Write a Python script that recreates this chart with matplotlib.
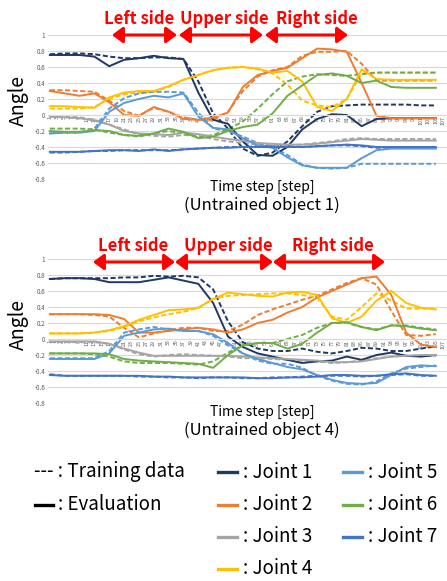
import matplotlib
matplotlib.use("Agg")
import matplotlib.pyplot as plt
from matplotlib.lines import Line2D
from matplotlib.patches import FancyArrowPatch

plt.rcParams['font.family'] = ['Noto Sans CJK JP', 'DejaVu Sans']

W, H = 447, 581

# ---------------- data ----------------
steps = [1, 5, 9, 13, 17, 21, 25, 29, 33, 37, 41, 45, 49, 53, 57, 61, 65, 69,
         73, 77, 81, 85, 89, 93, 97, 101, 105]
xtick_labels = [str(v) for v in range(1, 108, 2)]
yticks = [-0.8, -0.6, -0.4, -0.2, 0, 0.2, 0.4, 0.6, 0.8, 1]
ytick_labels = ["-0.8", "-0.6", "-0.4", "-0.2", "0", "0.2", "0.4", "0.6", "0.8", "1"]

joint_names = ["Joint 1", "Joint 2", "Joint 3", "Joint 4", "Joint 5", "Joint 6", "Joint 7"]
joint_colors = ["#1F3864", "#ED7D31", "#A5A5A5", "#FFC000", "#5B9BD5", "#70AD47", "#4472C4"]

# Untrained object 1 : evaluation (solid) / training (dashed)
o1_j1_eval = [0.75, 0.75, 0.75, 0.73, 0.61, 0.69, 0.71, 0.74, 0.71, 0.70, 0.28, -0.06, -0.11, -0.33, -0.50, -0.51, -0.40, -0.18, -0.05, 0.01, 0.00, -0.14, -0.05, -0.04, -0.04, -0.04, -0.04]
o1_j1_train = [0.76, 0.77, 0.77, 0.76, 0.73, 0.71, 0.71, 0.72, 0.72, 0.70, 0.42, 0.02, -0.17, -0.42, -0.51, -0.47, -0.33, -0.14, 0.04, 0.11, 0.12, 0.13, 0.13, 0.13, 0.13, 0.12, 0.12]
o1_j2_eval = [0.30, 0.27, 0.24, 0.27, 0.16, 0.00, -0.01, 0.10, 0.04, -0.05, -0.06, -0.03, 0.03, 0.35, 0.50, 0.55, 0.59, 0.71, 0.83, 0.82, 0.79, 0.40, -0.01, -0.04, -0.04, -0.04, -0.04]
o1_j2_train = [0.31, 0.31, 0.30, 0.29, 0.18, 0.05, -0.01, 0.09, 0.04, -0.03, -0.06, -0.06, 0.04, 0.30, 0.48, 0.56, 0.60, 0.74, 0.79, 0.79, 0.80, 0.64, 0.43, 0.43, 0.43, 0.43, 0.43]
o1_j3_eval = [-0.02, -0.03, -0.04, -0.07, -0.12, -0.20, -0.23, -0.24, -0.25, -0.22, -0.24, -0.27, -0.30, -0.32, -0.35, -0.36, -0.37, -0.37, -0.36, -0.34, -0.32, -0.30, -0.31, -0.32, -0.32, -0.32, -0.32]
o1_j3_train = [-0.02, -0.02, -0.03, -0.06, -0.12, -0.18, -0.24, -0.26, -0.27, -0.25, -0.26, -0.30, -0.33, -0.35, -0.37, -0.38, -0.38, -0.37, -0.35, -0.33, -0.30, -0.29, -0.30, -0.30, -0.30, -0.30, -0.30]
o1_j4_eval = [0.11, 0.11, 0.10, 0.09, 0.22, 0.28, 0.30, 0.30, 0.36, 0.44, 0.50, 0.56, 0.59, 0.60, 0.58, 0.53, 0.55, 0.42, 0.10, 0.05, 0.20, 0.57, 0.45, 0.44, 0.44, 0.44, 0.44]
o1_j4_train = [0.08, 0.08, 0.08, 0.10, 0.20, 0.26, 0.28, 0.29, 0.35, 0.44, 0.50, 0.56, 0.59, 0.60, 0.57, 0.52, 0.38, 0.18, 0.12, 0.10, 0.20, 0.52, 0.53, 0.53, 0.53, 0.53, 0.53]
o1_j5_eval = [-0.23, -0.22, -0.22, -0.20, 0.04, 0.15, 0.20, 0.24, 0.22, 0.27, -0.02, -0.16, -0.18, -0.29, -0.38, -0.41, -0.53, -0.63, -0.66, -0.66, -0.66, -0.54, -0.44, -0.42, -0.42, -0.42, -0.42]
o1_j5_train = [-0.23, -0.22, -0.22, -0.17, 0.08, 0.21, 0.27, 0.29, 0.29, 0.28, 0.03, -0.17, -0.20, -0.27, -0.35, -0.40, -0.50, -0.62, -0.66, -0.67, -0.66, -0.61, -0.61, -0.61, -0.61, -0.61, -0.61]
o1_j6_eval = [-0.20, -0.21, -0.21, -0.19, -0.20, -0.25, -0.26, -0.23, -0.17, -0.21, -0.29, -0.27, -0.20, -0.15, -0.12, 0.02, 0.24, 0.37, 0.50, 0.52, 0.49, 0.40, 0.43, 0.35, 0.34, 0.34, 0.34]
o1_j6_train = [-0.17, -0.17, -0.17, -0.18, -0.22, -0.25, -0.27, -0.23, -0.20, -0.23, -0.28, -0.25, -0.18, -0.08, 0.08, 0.26, 0.42, 0.48, 0.51, 0.50, 0.49, 0.51, 0.53, 0.53, 0.53, 0.53, 0.53]
o1_j7_eval = [-0.46, -0.46, -0.46, -0.45, -0.44, -0.44, -0.45, -0.43, -0.45, -0.43, -0.42, -0.41, -0.41, -0.40, -0.40, -0.40, -0.40, -0.40, -0.39, -0.38, -0.37, -0.38, -0.40, -0.40, -0.40, -0.40, -0.40]
o1_j7_train = [-0.47, -0.47, -0.46, -0.45, -0.45, -0.44, -0.44, -0.44, -0.44, -0.43, -0.42, -0.41, -0.40, -0.40, -0.39, -0.39, -0.40, -0.40, -0.39, -0.38, -0.38, -0.39, -0.41, -0.41, -0.41, -0.41, -0.41]

# Untrained object 4
o4_j1_eval = [0.75, 0.76, 0.76, 0.75, 0.71, 0.71, 0.71, 0.74, 0.77, 0.73, 0.69, 0.45, 0.03, -0.10, -0.18, -0.22, -0.26, -0.30, -0.28, -0.27, -0.22, -0.26, -0.20, -0.17, -0.21, -0.22, -0.20]
o4_j1_train = [0.75, 0.76, 0.76, 0.76, 0.76, 0.77, 0.77, 0.79, 0.78, 0.79, 0.77, 0.62, 0.22, -0.04, -0.12, -0.15, -0.15, -0.12, -0.16, -0.18, -0.15, -0.11, -0.12, -0.15, -0.15, -0.12, -0.09]
o4_j2_eval = [0.31, 0.31, 0.31, 0.31, 0.30, 0.25, 0.08, 0.08, 0.10, 0.12, 0.14, 0.12, 0.08, 0.12, 0.20, 0.24, 0.33, 0.40, 0.52, 0.60, 0.68, 0.76, 0.78, 0.55, 0.08, -0.07, -0.10]
o4_j2_train = [0.31, 0.31, 0.31, 0.30, 0.28, 0.14, 0.02, 0.07, 0.11, 0.14, 0.14, 0.10, 0.10, 0.18, 0.30, 0.37, 0.43, 0.49, 0.54, 0.62, 0.70, 0.76, 0.68, 0.35, 0.05, 0.04, 0.06]
o4_j3_eval = [-0.03, -0.03, -0.03, -0.03, -0.06, -0.12, -0.17, -0.21, -0.21, -0.21, -0.21, -0.21, -0.21, -0.22, -0.23, -0.24, -0.25, -0.26, -0.27, -0.29, -0.29, -0.28, -0.25, -0.22, -0.21, -0.20, -0.20]
o4_j3_train = [-0.04, -0.04, -0.04, -0.04, -0.06, -0.13, -0.19, -0.22, -0.20, -0.19, -0.20, -0.21, -0.22, -0.24, -0.24, -0.25, -0.26, -0.27, -0.28, -0.30, -0.29, -0.27, -0.24, -0.22, -0.21, -0.21, -0.21]
o4_j4_eval = [0.07, 0.07, 0.07, 0.08, 0.11, 0.16, 0.24, 0.30, 0.36, 0.37, 0.39, 0.50, 0.58, 0.56, 0.54, 0.53, 0.58, 0.59, 0.55, 0.26, 0.20, 0.28, 0.48, 0.60, 0.45, 0.39, 0.37]
o4_j4_train = [0.07, 0.07, 0.07, 0.08, 0.10, 0.15, 0.22, 0.27, 0.31, 0.34, 0.39, 0.50, 0.54, 0.55, 0.56, 0.57, 0.57, 0.55, 0.52, 0.28, 0.24, 0.40, 0.57, 0.48, 0.38, 0.38, 0.38]
o4_j5_eval = [-0.25, -0.25, -0.25, -0.25, -0.18, 0.04, 0.08, 0.12, 0.13, 0.10, 0.10, 0.06, -0.05, -0.18, -0.25, -0.30, -0.35, -0.38, -0.45, -0.51, -0.55, -0.56, -0.55, -0.45, -0.35, -0.33, -0.34]
o4_j5_train = [-0.24, -0.24, -0.24, -0.24, -0.15, 0.08, 0.12, 0.15, 0.12, 0.10, 0.10, 0.04, -0.08, -0.18, -0.27, -0.31, -0.31, -0.36, -0.46, -0.52, -0.56, -0.57, -0.53, -0.43, -0.37, -0.35, -0.33]
o4_j6_eval = [-0.18, -0.18, -0.18, -0.18, -0.19, -0.25, -0.27, -0.28, -0.29, -0.30, -0.31, -0.36, -0.20, -0.08, -0.05, -0.05, -0.12, -0.06, 0.08, 0.20, 0.21, 0.15, 0.11, 0.17, 0.16, 0.13, 0.11]
o4_j6_train = [-0.18, -0.18, -0.18, -0.19, -0.22, -0.28, -0.30, -0.30, -0.30, -0.31, -0.32, -0.28, -0.17, -0.08, -0.05, -0.05, 0.00, 0.05, 0.14, 0.20, 0.20, 0.15, 0.12, 0.17, 0.17, 0.14, 0.12]
o4_j7_eval = [-0.45, -0.46, -0.46, -0.46, -0.46, -0.46, -0.46, -0.47, -0.47, -0.48, -0.48, -0.48, -0.48, -0.48, -0.49, -0.49, -0.48, -0.48, -0.47, -0.45, -0.45, -0.46, -0.46, -0.44, -0.43, -0.45, -0.46]
o4_j7_train = [-0.44, -0.46, -0.46, -0.46, -0.46, -0.46, -0.47, -0.47, -0.48, -0.48, -0.49, -0.48, -0.48, -0.49, -0.49, -0.48, -0.48, -0.47, -0.46, -0.46, -0.46, -0.47, -0.46, -0.45, -0.44, -0.46, -0.46]

obj1_eval = [o1_j1_eval, o1_j2_eval, o1_j3_eval, o1_j4_eval, o1_j5_eval, o1_j6_eval, o1_j7_eval]
obj1_train = [o1_j1_train, o1_j2_train, o1_j3_train, o1_j4_train, o1_j5_train, o1_j6_train, o1_j7_train]
obj4_eval = [o4_j1_eval, o4_j2_eval, o4_j3_eval, o4_j4_eval, o4_j5_eval, o4_j6_eval, o4_j7_eval]
obj4_train = [o4_j1_train, o4_j2_train, o4_j3_train, o4_j4_train, o4_j5_train, o4_j6_train, o4_j7_train]

phase_labels = ["Left side", "Upper side", "Right side"]

# ---------------- figure ----------------
fig = plt.figure(figsize=(W / 100, H / 100), dpi=100)


def fx(px):
    return px / W


def fy(py):
    return 1 - py / H


def make_axes(top_px, bottom_px, evals, trains, subtitle, label_y):
    ax = fig.add_axes([fx(48), fy(bottom_px), fx(447 - 48), (bottom_px - top_px) / H])
    for s in ["top", "right", "left"]:
        ax.spines[s].set_visible(False)
    ax.spines["bottom"].set_position(("data", 0))
    ax.spines["bottom"].set_color("#D9D9D9")
    ax.spines["bottom"].set_linewidth(0.8)
    ax.set_xlim(0.5, 108)
    ax.set_ylim(-0.8, 1.0)
    ax.set_yticks(yticks)
    ax.set_yticklabels(ytick_labels, fontsize=4.5, color="#595959")
    ax.set_xticks(list(range(1, 108, 2)))
    ax.set_xticklabels(xtick_labels, fontsize=3.8, color="#595959", rotation=90)
    ax.tick_params(axis="both", length=0)
    ax.tick_params(axis="y", pad=2)
    ax.tick_params(axis="x", pad=0.5)
    ax.grid(axis="y", color="#D9D9D9", linewidth=0.8)
    ax.set_axisbelow(True)
    for k in range(7):
        ax.plot(steps, trains[k], color=joint_colors[k], lw=1.4,
                ls=(0, (2.6, 1.3)))
    for k in range(7):
        ax.plot(steps, evals[k], color=joint_colors[k], lw=1.4)
    fig.text(fx(18), fy((top_px + bottom_px) / 2 - 7), "Angle", rotation=90,
             ha="center", va="center", fontsize=14)
    fig.text(fx(262), fy(label_y), "Time step [step]", ha="center", va="center",
             fontsize=10)
    fig.text(fx(262), fy(label_y + 18), subtitle, ha="center", va="center",
             fontsize=12)
    return ax


ax1 = make_axes(35, 179, obj1_eval, obj1_train, "(Untrained object 1)", 187)
ax2 = make_axes(259, 403, obj4_eval, obj4_train, "(Untrained object 4)", 412)


def phase_header(text_y, arrow_y, centers, spans):
    for lab, cx, (x0, x1) in zip(phase_labels, centers, spans):
        fig.text(fx(cx), fy(text_y), lab, color="#FF0000", fontsize=12,
                 fontweight="bold", ha="center", va="center")
        fig.add_artist(FancyArrowPatch(
            (fx(x0), fy(arrow_y)), (fx(x1), fy(arrow_y)),
            transform=fig.transFigure, arrowstyle="<|-|>,head_length=3.2,head_width=2.4",
            color="#FF0000", lw=2.2, shrinkA=0, shrinkB=0, mutation_scale=2))


phase_header(19, 35, [139, 224, 317], [(112, 177), (179, 263), (265, 348)])
phase_header(246, 262, [133, 228, 333], [(93, 175), (175, 273), (273, 385)])

# ---------------- legend ----------------
leg_fs = 13.5
fig.text(fx(34), fy(472), "--- : Training data", fontsize=leg_fs, ha="left", va="center")
fig.add_artist(Line2D([fx(35), fx(53)], [fy(505), fy(505)], color="black", lw=2.4,
                      transform=fig.transFigure))
fig.text(fx(58), fy(505), ": Evaluation", fontsize=leg_fs, ha="left", va="center")

rows = [472, 505, 537, 569]
col_pos = [(218, 243), (343, 368)]
for k in range(7):
    c = 0 if k < 4 else 1
    r = k if k < 4 else k - 4
    x0, xt = col_pos[c]
    fig.add_artist(Line2D([fx(x0), fx(x0 + 19)], [fy(rows[r]), fy(rows[r])],
                          color=joint_colors[k], lw=2.4, transform=fig.transFigure))
    fig.text(fx(xt), fy(rows[r]), ": " + joint_names[k], fontsize=leg_fs,
             ha="left", va="center")

fig.savefig("out.png", dpi=100)
